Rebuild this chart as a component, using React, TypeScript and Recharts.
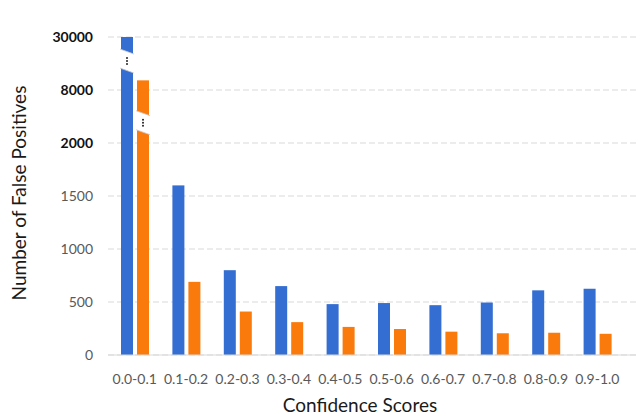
import { BarChart, Bar, XAxis, YAxis, CartesianGrid } from 'recharts';

// confidence score buckets on the x axis
const categories = ['0.0-0.1', '0.1-0.2', '0.2-0.3', '0.3-0.4', '0.4-0.5', '0.5-0.6', '0.6-0.7', '0.7-0.8', '0.8-0.9', '0.9-1.0'];
const blueValues = [30000, 1600, 800, 650, 480, 490, 470, 495, 610, 625];
const orangeValues = [12000, 690, 410, 310, 265, 245, 220, 205, 210, 200];
// broken axis: every tick gets the same vertical step
const yTicks = [0, 500, 1000, 1500, 2000, 8000, 30000];

const STEP = 500;
const FONT = 'Lato, "Open Sans", sans-serif';

// map a real value onto the evenly spaced broken axis
function toAxis(v: number) {
  for (let i = 0; i < yTicks.length - 1; i++) {
    if (v <= yTicks[i + 1]) {
      return i * STEP + ((v - yTicks[i]) / (yTicks[i + 1] - yTicks[i])) * STEP;
    }
  }
  return (yTicks.length - 1) * STEP;
}

const data = categories.map((category, i) => ({
  category,
  blue: toAxis(blueValues[i]),
  orange: toAxis(orangeValues[i]),
}));

// where the break mark sits on the bars that go past 2000
const breakAt: Record<string, number> = { blue: toAxis(20000), orange: toAxis(4300) };

function makeShape(key: string) {
  return (props: any) => {
    const { x, y, width, height, fill, payload } = props;
    const els = [<rect key="r" x={x} y={y} width={width} height={height} fill={fill} />];
    const v = payload[key];
    if (v > toAxis(2000) && height > 0) {
      const yc = y + height - breakAt[key] * (height / v);
      const x0 = x - 1;
      const x1 = x + width + 1;
      els.push(
        <polygon key="b" points={`${x0},${yc - 12} ${x1},${yc - 7} ${x1},${yc + 12} ${x0},${yc + 7}`} fill="#fff" />,
        <line key="l1" x1={x0} y1={yc - 12} x2={x1} y2={yc - 7} stroke="#c8c8c8" strokeWidth={0.8} />,
        <line key="l2" x1={x0} y1={yc + 7} x2={x1} y2={yc + 12} stroke="#c8c8c8" strokeWidth={0.8} />,
        <circle key="d1" cx={x + width / 2} cy={yc - 3} r={1} fill="#222" />,
        <circle key="d2" cx={x + width / 2} cy={yc} r={1} fill="#222" />,
        <circle key="d3" cx={x + width / 2} cy={yc + 3} r={1} fill="#222" />
      );
    }
    return <g>{els}</g>;
  };
}

function YTick(props: any) {
  const { x, y, payload } = props;
  const real = yTicks[Math.round(payload.value / STEP)];
  const strong = real >= 2000;
  return (
    <text x={x} y={y} dy="0.35em" textAnchor="end" fontFamily={FONT} fontSize={14}
      fill={strong ? '#111' : '#595959'} fontWeight={strong ? 700 : 400}>
      {real}
    </text>
  );
}

export default function App() {
  return (
    <div style={{ position: 'absolute', left: 0, top: 0, background: '#fff' }}>
      <BarChart width={638} height={417} data={data} margin={{ top: 37, right: 2, bottom: 32, left: 0 }} barSize={12} barGap={4}>
        <CartesianGrid vertical={false} stroke="#d9d9d9" strokeDasharray="6 3" />
        <XAxis
          dataKey="category"
          height={30}
          padding={{ left: 1, right: 13 }}
          tickLine={false}
          axisLine={{ stroke: '#d9d9d9' }}
          tickSize={0}
          tickMargin={19}
          interval={0}
          tick={{ fontSize: 14, fill: '#595959', fontFamily: FONT }}
          label={{
            content: () => (
              <text x={360} y={412} textAnchor="middle" fontFamily={FONT} fontSize={19} fill="#1a1a1a">
                Confidence Scores
              </text>
            ),
          }}
        />
        <YAxis
          width={108}
          domain={[0, (yTicks.length - 1) * STEP]}
          ticks={yTicks.map((_, i) => i * STEP)}
          interval={0}
          tickLine={false}
          axisLine={false}
          tickSize={0}
          tickMargin={15}
          tick={<YTick />}
          label={{
            content: () => (
              <text x={18} y={193} transform="rotate(-90 18 193)" textAnchor="middle" dominantBaseline="central"
                fontFamily={FONT} fontSize={19} fill="#1a1a1a">
                Number of False Positives
              </text>
            ),
          }}
        />
        <Bar dataKey="blue" name="Series 1" fill="#346ed2" isAnimationActive={false} shape={makeShape('blue')} />
        <Bar dataKey="orange" name="Series 2" fill="#fb7a0c" isAnimationActive={false} shape={makeShape('orange')} />
      </BarChart>
    </div>
  );
}
